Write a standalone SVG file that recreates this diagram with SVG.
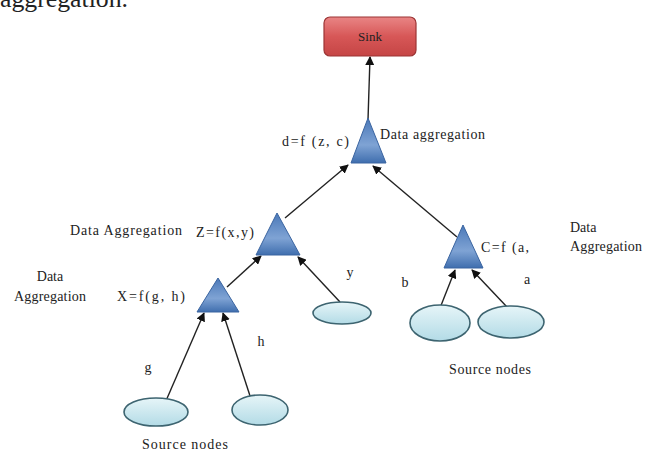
<svg xmlns="http://www.w3.org/2000/svg" width="647" height="452" viewBox="0 0 647 452" font-family="'Liberation Serif', 'DejaVu Serif', serif">
<defs>
<linearGradient id="gSink" x1="0" y1="0" x2="0" y2="1">
<stop offset="0" stop-color="#e98585"/>
<stop offset="0.5" stop-color="#d75757"/>
<stop offset="1" stop-color="#c54545"/>
</linearGradient>
<linearGradient id="gTri" x1="0" y1="0" x2="0" y2="1">
<stop offset="0" stop-color="#4a78b8"/>
<stop offset="0.6" stop-color="#7fa3d4"/>
<stop offset="1" stop-color="#3f6eae"/>
</linearGradient>
<linearGradient id="gEll" x1="0" y1="0" x2="0" y2="1">
<stop offset="0" stop-color="#e6f5f8"/>
<stop offset="1" stop-color="#b3dbe6"/>
</linearGradient>
<marker id="arr" viewBox="0 0 10 10" refX="9" refY="5" markerWidth="9" markerHeight="9" markerUnits="userSpaceOnUse" orient="auto">
<path d="M0,0 L10,5 L0,10 z" fill="#111"/>
</marker>
<style>
text{fill:#222;}
.lbl{font-size:14px;}
.sm{font-size:13px;}
.tri{fill:url(#gTri);stroke:#3a64a0;stroke-width:1;}
.ell{fill:url(#gEll);stroke:#3d6470;stroke-width:1.6;}
.con{stroke:#222;stroke-width:1.4;fill:none;marker-end:url(#arr);}
</style>
</defs>
<rect width="647" height="452" fill="#fff"/>
<text x="0" y="7" font-size="25" textLength="128" lengthAdjust="spacingAndGlyphs">aggregation.</text>

<g id="connectors">
<line class="con" x1="368" y1="120" x2="370" y2="57"/>
<line class="con" x1="285" y1="218" x2="348" y2="165"/>
<line class="con" x1="457" y1="237" x2="373" y2="166"/>
<line class="con" x1="227" y1="287" x2="261" y2="256"/>
<line class="con" x1="340" y1="302" x2="298" y2="257"/>
<line class="con" x1="162" y1="410" x2="204" y2="313"/>
<line class="con" x1="252" y1="402" x2="223" y2="313"/>
<line class="con" x1="440" y1="308" x2="455" y2="270"/>
<line class="con" x1="507" y1="307" x2="472" y2="270"/>
</g>

<g id="sink">
<rect x="324" y="17" width="92" height="39" rx="6" fill="url(#gSink)" stroke="#9c3535" stroke-width="1.2"/>
<text x="370" y="41" class="sm" text-anchor="middle" fill="#3a1a1a">Sink</text>
</g>

<g id="agg-d">
<polygon class="tri" points="368,118 351,163 386,163"/>
<text x="282" y="146" class="lbl" textLength="67">d=f (z, c)</text>
<text x="380" y="139" class="lbl" textLength="105">Data aggregation</text>
</g>

<g id="agg-z">
<polygon class="tri" points="277,213 256,255 300,255"/>
<text x="196" y="237" class="lbl" textLength="58">Z=f(x,y)</text>
<text x="70" y="235" class="lbl" textLength="112">Data Aggregation</text>
</g>

<g id="agg-x">
<polygon class="tri" points="218,278 197,312 239,312"/>
<text x="117" y="301" class="lbl" textLength="68">X=f(g, h)</text>
<text x="50" y="281" class="lbl" text-anchor="middle">Data</text>
<text x="14" y="301" class="lbl" textLength="72">Aggregation</text>
</g>

<g id="agg-c">
<polygon class="tri" points="463,225 444,268 483,268"/>
<text x="481" y="252" class="lbl" textLength="48">C=f (a,</text>
<text x="570" y="232" class="lbl">Data</text>
<text x="570" y="251" class="lbl" textLength="72">Aggregation</text>
</g>

<g id="src-y">
<ellipse class="ell" cx="342" cy="313" rx="29" ry="11"/>
<text x="350" y="277" class="lbl" text-anchor="middle">y</text>
</g>

<g id="src-b">
<ellipse class="ell" cx="440" cy="323" rx="30" ry="18"/>
<text x="405" y="287" class="lbl" text-anchor="middle">b</text>
</g>

<g id="src-a">
<ellipse class="ell" cx="511" cy="322" rx="33" ry="16"/>
<text x="527" y="284" class="lbl" text-anchor="middle">a</text>
</g>

<g id="src-g">
<ellipse class="ell" cx="156" cy="412" rx="32" ry="14"/>
<text x="148" y="372" class="lbl" text-anchor="middle">g</text>
</g>

<g id="src-h">
<ellipse class="ell" cx="260" cy="410" rx="28" ry="15"/>
<text x="261" y="346" class="lbl" text-anchor="middle">h</text>
</g>

<g id="labels">
<text x="490" y="374" class="lbl" text-anchor="middle" textLength="82">Source nodes</text>
<text x="185" y="449" class="lbl" text-anchor="middle" textLength="86">Source nodes</text>
</g>
</svg>
